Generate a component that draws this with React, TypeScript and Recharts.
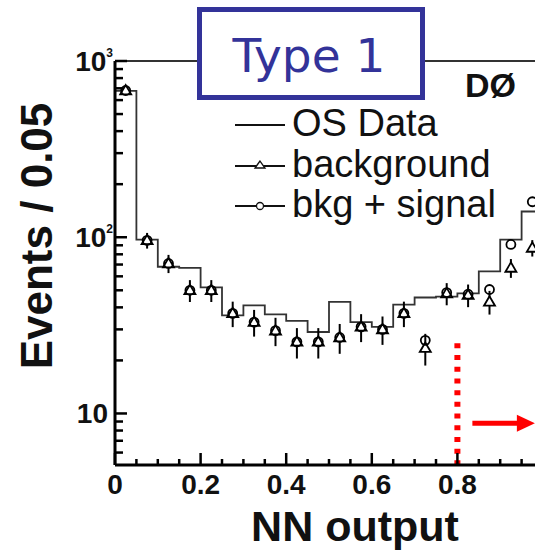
import {
  ComposedChart,
  Line,
  Scatter,
  ErrorBar,
  XAxis,
  YAxis,
  ReferenceLine,
} from 'recharts'

// histogram bin edges (width 0.05) and bin centres
const BIN_EDGES = [0, 0.05, 0.1, 0.15, 0.2, 0.25, 0.3, 0.35, 0.4, 0.45, 0.5, 0.55, 0.6, 0.65, 0.7, 0.75, 0.8, 0.85, 0.9, 0.95, 1.0]
const BIN_CENTERS = [0.025, 0.075, 0.125, 0.175, 0.225, 0.275, 0.325, 0.375, 0.425, 0.475, 0.525, 0.575, 0.625, 0.675, 0.725, 0.775, 0.825, 0.875, 0.925, 0.975]

// events per bin
const OS_DATA = [676, 97, 68, 67, 52, 36, 41, 36.5, 33.5, 29, 43, 33, 31, 41.5, 45.5, 46, 48, 64, 97, 140]
const BACKGROUND = [680, 96, 71, 50, 50, 37, 33, 29.5, 25.5, 25.5, 27, 31, 30, 37, 23.5, 48, 47, 43, 67, 87]
const BACKGROUND_ERR = [26, 9.8, 8.4, 7.1, 7.1, 6.1, 5.7, 5.4, 5.0, 5.0, 5.2, 5.6, 5.5, 6.1, 4.8, 6.9, 6.9, 6.6, 8.2, 9.3]
const BKG_SIGNAL = [680, 96, 71, 50, 50, 37, 33, 29.5, 25.5, 25.5, 27, 31, 30, 37, 26, 48.5, 47.5, 50.5, 91, 159]

const X_TICKS = [0, 0.05, 0.1, 0.15, 0.2, 0.25, 0.3, 0.35, 0.4, 0.45, 0.5, 0.55, 0.6, 0.65, 0.7, 0.75, 0.8, 0.85, 0.9, 0.95, 1]
const X_MAJOR = [0, 0.2, 0.4, 0.6, 0.8, 1]
const Y_TICKS = [6, 7, 8, 9, 10, 20, 30, 40, 50, 60, 70, 80, 90, 100, 200, 300, 400, 500, 600, 700, 800, 900, 1000]
const Y_MAJOR = [10, 100, 1000]

// NN cut and arrow annotation
const NN_CUT = 0.8
const CUT_RANGE = [25, 4.85]
const ARROW_X = [0.835, 0.981]
const ARROW_Y = 8.8

const PLOT_LEFT = 115
const PLOT_BOTTOM = 465
const FONT = '"Liberation Sans", Arial, Helvetica, sans-serif'
const NAVY = '#333399'

const histData = BIN_EDGES.map((x, i) => ({ x, y: OS_DATA[Math.min(i, OS_DATA.length - 1)] }))
const bkgData = BIN_CENTERS.map((x, i) => ({ x, y: BACKGROUND[i], err: BACKGROUND_ERR[i] }))
const sigData = BIN_CENTERS.map((x, i) => ({ x, y: BKG_SIGNAL[i] }))

const near = (a: number, b: number) => Math.abs(a - b) < 1e-6

function XTick(props: any) {
  const { x, payload } = props
  const v = payload.value
  const major = X_MAJOR.some(m => near(m, v))
  const label = near(v, 0) ? '0' : near(v, 1) ? '1' : v.toFixed(1)
  return (
    <g>
      <line x1={x} x2={x} y1={PLOT_BOTTOM} y2={PLOT_BOTTOM - (major ? 12 : 6)} stroke="#000" strokeWidth={2.5} />
      {major && (
        <text x={x} y={494} textAnchor="middle" fontSize={28} fontWeight="bold" fontFamily={FONT} fill="#111">
          {label}
        </text>
      )}
    </g>
  )
}

function YTick(props: any) {
  const { y, payload } = props
  const v = payload.value
  const major = Y_MAJOR.includes(v)
  return (
    <g>
      <line x1={PLOT_LEFT} x2={PLOT_LEFT + (major ? 12 : 8)} y1={y} y2={y} stroke="#000" strokeWidth={2.5} />
      {v === 10 && (
        <text x={108} y={y + 10} textAnchor="end" fontSize={28} fontWeight="bold" fontFamily={FONT} fill="#111">
          10
        </text>
      )}
      {v > 10 && major && (
        <text x={113} y={y + 10} textAnchor="end" fontSize={28} fontWeight="bold" fontFamily={FONT} fill="#111">
          10
          <tspan dy={-14} fontSize={12}>
            {v === 100 ? '2' : '3'}
          </tspan>
        </text>
      )}
    </g>
  )
}

function Triangle(props: any) {
  const { cx, cy } = props
  const s = 5.5
  return (
    <polygon
      points={`${cx},${cy - s} ${cx - s},${cy + s * 0.7} ${cx + s},${cy + s * 0.7}`}
      fill="#fff"
      stroke="#000"
      strokeWidth={1.8}
    />
  )
}

function Circle(props: any) {
  const { cx, cy } = props
  return <circle cx={cx} cy={cy} r={4.5} fill="none" stroke="#000" strokeWidth={1.8} />
}

function Arrow(props: any) {
  const { x1, y1, x2 } = props
  return (
    <g>
      <line x1={x1} x2={x2 - 16} y1={y1} y2={y1} stroke="#ff0000" strokeWidth={5} />
      <polygon points={`${x2},${y1} ${x2 - 18},${y1 - 8.5} ${x2 - 18},${y1 + 8.5}`} fill="#ff0000" />
    </g>
  )
}

export default function App() {
  return (
    <div
      style={{
        position: 'absolute',
        left: 0,
        top: 0,
        width: 535,
        height: 551,
        overflow: 'hidden',
        background: '#fff',
        fontFamily: FONT,
      }}
    >
      <ComposedChart width={560} height={551} margin={{ top: 61, right: 17, bottom: 0, left: 0 }}>
        <XAxis
          type="number"
          dataKey="x"
          domain={[0, 1]}
          ticks={X_TICKS}
          interval={0}
          height={86}
          tick={<XTick />}
          tickLine={false}
          axisLine={{ stroke: '#000', strokeWidth: 3 }}
          allowDataOverflow
        />
        <YAxis
          type="number"
          scale="log"
          domain={[5.1, 1000]}
          ticks={Y_TICKS}
          interval={0}
          width={115}
          tick={<YTick />}
          tickLine={false}
          axisLine={{ stroke: '#000', strokeWidth: 3 }}
          allowDataOverflow
        />
        <ReferenceLine y={1000} stroke="#333" strokeWidth={2} />
        <Line
          data={histData}
          dataKey="y"
          type="stepAfter"
          stroke="#333"
          strokeWidth={1.8}
          dot={false}
          isAnimationActive={false}
        />
        <Scatter data={bkgData} dataKey="y" shape={<Triangle />} isAnimationActive={false}>
          <ErrorBar dataKey="err" direction="y" width={0} stroke="#000" strokeWidth={2} />
        </Scatter>
        <Scatter data={sigData} dataKey="y" shape={<Circle />} isAnimationActive={false} />
        <ReferenceLine
          segment={[
            { x: NN_CUT, y: CUT_RANGE[0] },
            { x: NN_CUT, y: CUT_RANGE[1] },
          ]}
          stroke="#ff0000"
          strokeWidth={6}
          strokeDasharray="5 6.7"
          ifOverflow="visible"
        />
        <ReferenceLine
          segment={[
            { x: ARROW_X[0], y: ARROW_Y },
            { x: ARROW_X[1], y: ARROW_Y },
          ]}
          shape={(p: any) => <Arrow {...p} />}
          ifOverflow="visible"
        />
      </ComposedChart>

      <svg width={535} height={551} style={{ position: 'absolute', left: 0, top: 0, pointerEvents: 'none' }}>
        {/* axis titles */}
        <text
          transform="translate(52, 236) rotate(-90)"
          textAnchor="middle"
          fontSize={44}
          fontWeight="bold"
          fontFamily={FONT}
          fill="#111"
        >
          Events / 0.05
        </text>
        <text x={355} y={541} textAnchor="middle" fontSize={43} fontWeight="bold" fontFamily={FONT} fill="#111">
          NN output
        </text>

        {/* legend */}
        <g fontFamily={FONT} fontSize={38} fill="#111">
          <line x1={235} x2={285} y1={125} y2={125} stroke="#111" strokeWidth={1.8} />
          <text x={292} y={136}>OS Data</text>
          <line x1={235} x2={285} y1={166} y2={166} stroke="#111" strokeWidth={1.8} />
          <polygon points="260,161 255,168 265,168" fill="#fff" stroke="#111" strokeWidth={1.3} />
          <text x={292} y={177}>background</text>
          <line x1={235} x2={285} y1={206} y2={206} stroke="#111" strokeWidth={1.8} />
          <circle cx={260} cy={206} r={3.5} fill="#fff" stroke="#111" strokeWidth={1.3} />
          <text x={292} y={217}>bkg + signal</text>
        </g>

        {/* experiment tag */}
        <text x={465} y={97} fontSize={34} fontWeight="bold" fontFamily={FONT} fill="#111">
          DØ
        </text>

        {/* Type 1 box */}
        <rect x={199.5} y={9.5} width={223} height={88} fill="#fff" stroke={NAVY} strokeWidth={5} />
        <text x={309} y={72} textAnchor="middle" fontSize={47} fontFamily='"DejaVu Sans", Verdana, sans-serif' fill={NAVY}>
          Type 1
        </text>
      </svg>
    </div>
  )
}
